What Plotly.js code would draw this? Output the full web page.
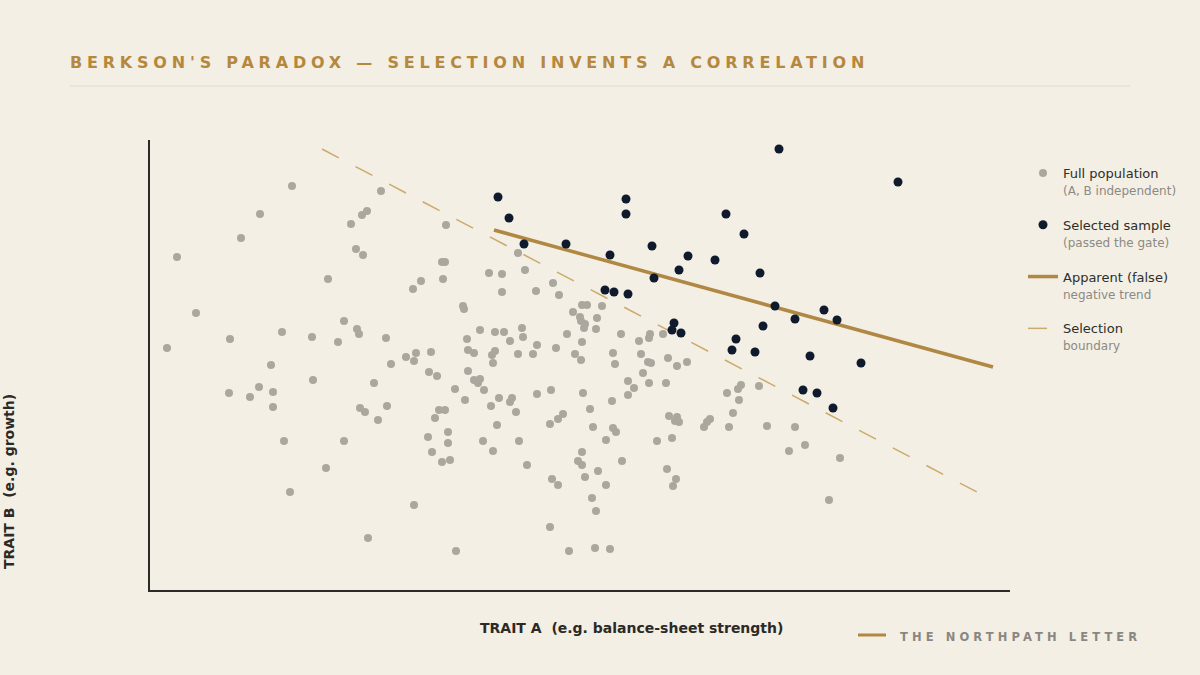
<!DOCTYPE html>
<html>
<head>
<meta charset="utf-8">
<script src="https://cdn.plot.ly/plotly-3.0.1.min.js"></script>
<style>
  html, body { margin: 0; padding: 0; background: #f3efe4; }
  #chart { width: 1200px; height: 675px; }
</style>
</head>
<body>
<div id="chart"></div>
<script>
// ---- Data (Trait A on x, Trait B on y; arbitrary units) ----
const populationA = [
  14.2, 11.0, 9.1, 2.7, 17.8, 20.1, 21.2, 21.7, 20.6, 21.3, 4.6, 1.7, 8.0, 13.2, 16.2, 19.4, 20.7, 20.9, 18.8, 12.1,
  16.3, 7.9, 10.0, 10.9, 12.3, 12.3, 13.4, 19.4, 17.6, 14.0, 21.0, 21.5, 21.8, 23.1, 29.6, 36.8, 29.2, 29.5, 33.9, 35.2,
  37.5, 27.1, 29.3, 26.3, 35.2, 38.6, 40.3, 40.9, 31.3, 31.4, 42.3, 43.2, 43.0, 43.1, 43.4, 23.6, 33.0, 34.5, 35.4, 37.2,
  31.7, 36.0, 37.3, 38.7, 40.6, 41.7, 43.2, 31.8, 32.4, 34.5, 34.2, 36.8, 38.3, 42.5, 43.1, 26.6, 25.6, 26.4, 28.1, 24.1,
  34.3, 27.9, 28.7, 31.8, 32.4, 33.0, 32.8, 33.4, 30.5, 31.5, 34.9, 36.2, 36.0, 34.1, 36.6, 38.7, 40.1, 43.3, 22.4, 23.7,
  22.8, 28.9, 29.5, 28.5, 29.8, 27.8, 29.8, 28.2, 29.2, 30.0, 34.7, 33.3, 34.3, 36.9, 37.7, 40.0, 40.8, 41.3, 43.2, 42.8,
  43.2, 43.5, 40.2, 40.8, 26.4, 30.6, 40.0, 41.9, 43.7, 45.2, 44.7, 43.5, 44.6, 47.1, 48.9, 50.0, 49.9, 51.3, 46.3, 49.1,
  49.8, 50.1, 51.8, 46.5, 53.7, 52.7, 49.3, 47.8, 48.4, 49.9, 51.6, 47.8, 46.2, 44.0, 44.3, 46.3, 46.6, 45.6, 44.8, 45.6,
  47.2, 44.2, 44.6, 44.5, 46.0, 51.9, 52.7, 52.5, 52.9, 50.7, 52.2, 51.7, 52.6, 52.3, 55.4, 56.0, 55.7, 57.9, 58.3, 58.9,
  57.7, 59.1, 58.8, 60.9, 61.7, 63.9, 64.5, 65.5, 69.0, 67.9
];
const populationB = [
  40.4, 37.6, 35.2, 33.3, 31.1, 36.6, 37.5, 37.9, 34.1, 33.5, 27.7, 24.2, 25.1, 25.8, 25.3, 26.9, 26.1, 25.6, 24.8, 22.5,
  21.0, 19.7, 19.3, 20.3, 19.8, 18.3, 14.9, 14.9, 12.2, 9.8, 18.2, 17.8, 5.2, 39.9, 36.5, 33.7, 32.8, 32.8, 31.7, 31.6,
  32.0, 30.9, 31.1, 30.1, 29.8, 29.9, 30.7, 29.5, 28.4, 28.1, 27.8, 28.5, 27.3, 26.9, 26.2, 25.2, 26.0, 25.8, 25.8, 26.2,
  25.1, 24.9, 25.3, 24.5, 24.2, 25.6, 24.8, 24.0, 23.7, 23.9, 23.5, 23.6, 23.6, 23.6, 23.0, 23.7, 23.3, 22.9, 23.8, 22.6,
  22.7, 21.8, 21.4, 21.9, 21.0, 21.1, 20.7, 20.0, 20.1, 19.0, 19.2, 19.2, 18.8, 18.4, 17.8, 19.6, 20.0, 19.7, 20.7, 18.4,
  17.0, 18.0, 18.0, 17.2, 15.8, 15.3, 14.7, 13.8, 12.8, 13.0, 16.5, 14.9, 13.9, 14.9, 12.5, 16.6, 17.1, 17.6, 13.8, 12.9,
  12.5, 11.3, 11.1, 10.5, 8.5, 3.9, 6.3, 3.9, 28.5, 28.4, 27.2, 26.6, 26.1, 25.6, 24.9, 25.6, 25.2, 25.6, 23.7, 23.6,
  22.8, 22.7, 23.2, 22.6, 22.8, 22.4, 21.7, 20.9, 20.2, 20.7, 20.7, 19.5, 18.9, 18.1, 16.3, 16.2, 15.8, 15.0, 11.9, 10.5,
  12.9, 9.2, 7.9, 4.2, 4.1, 17.4, 17.3, 16.9, 16.8, 14.9, 15.2, 12.1, 11.1, 10.4, 16.3, 17.1, 16.8, 16.3, 17.7, 19.0,
  19.7, 20.5, 20.1, 20.4, 16.4, 13.9, 16.3, 14.5, 13.2, 9.0
];
const selectedA = [
  34.8, 35.9, 37.4, 41.6, 47.6, 47.6, 46.0, 50.2, 50.4, 45.5, 46.4, 47.8, 53.8, 52.9, 56.5, 57.6, 59.4, 61.0,
  62.9, 62.5, 64.5, 61.3, 58.6, 58.2, 60.5, 66.0, 67.4, 68.7, 71.1, 74.8, 65.3, 66.7, 68.3, 52.4, 52.2, 53.1
];
const selectedB = [
  39.3, 37.2, 34.6, 34.6, 39.1, 37.6, 33.5, 34.4, 31.2, 30.0, 29.8, 29.6, 33.4, 32.0, 33.0, 37.6, 35.6, 31.7,
  44.1, 28.4, 27.1, 26.4, 25.1, 24.0, 23.8, 23.4, 28.0, 27.0, 22.7, 40.8, 20.0, 19.7, 18.2, 26.7, 26.0, 25.7
];
const trendA = [34.4, 84.3];
const trendB = [36.0, 22.3];
const boundaryA = [17.2, 82.7];
const boundaryB = [44.1, 9.8];

const legendNames = [
  "Full population<br><span style='font-size:12px;color:#8c8a84'>(A, B independent)</span>",
  "Selected sample<br><span style='font-size:12px;color:#8c8a84'>(passed the gate)</span>",
  "Apparent (false)<br><span style='font-size:12px;color:#8c8a84'>negative trend</span>",
  "Selection<br><span style='font-size:12px;color:#8c8a84'>boundary</span>"
];

const titleText = "BERKSON'S PARADOX — SELECTION INVENTS A CORRELATION";
const xTitle = "TRAIT A\u00a0 (e.g. balance-sheet strength)";
const yTitle = "TRAIT B\u00a0 (e.g. growth)";
const footer = "THE NORTHPATH LETTER";

// ---- Colours ----
const BG = '#f3efe4';
const GOLD = '#b08843';
const GOLD_LIGHT = '#ccaa6c';
const GREY_PT = '#aba79e';
const NAVY = '#0f1b2c';
const INK = '#2b2a26';

const traces = [
  {
    x: populationA, y: populationB, type: 'scatter', mode: 'markers',
    name: legendNames[0], legendgroup: 'g1', legendrank: 1,
    marker: { color: GREY_PT, size: 8, line: { width: 0 } },
    hoverinfo: 'skip'
  },
  {
    x: selectedA, y: selectedB, type: 'scatter', mode: 'markers',
    name: legendNames[1], legendgroup: 'g2', legendrank: 2,
    marker: { color: NAVY, size: 9, line: { width: 0 } },
    hoverinfo: 'skip'
  },
  {
    x: trendA, y: trendB, type: 'scatter', mode: 'lines',
    name: legendNames[2], legendgroup: 'g3', legendrank: 3,
    line: { color: GOLD, width: 3.5 },
    hoverinfo: 'skip'
  },
  {
    x: boundaryA, y: boundaryB, type: 'scatter', mode: 'lines',
    name: legendNames[3], legendgroup: 'g4', legendrank: 4,
    line: { color: GOLD_LIGHT, width: 1.5, dash: '19px,18.9px' },
    hoverinfo: 'skip'
  }
];

// draw order: boundary below points, trend below selected points
const ordered = [traces[3], traces[0], traces[2], traces[1]];

const layout = {
  width: 1200, height: 675,
  paper_bgcolor: BG, plot_bgcolor: BG,
  margin: { l: 150, r: 190, t: 140, b: 85 },
  font: { family: 'DejaVu Sans, sans-serif', color: INK },
  title: {
    text: "<span style='letter-spacing:4.8px'>" + titleText + "</span>",
    font: { family: 'DejaVu Sans, sans-serif', size: 16, color: '#b5883e', weight: 700 },
    x: 70 / 1200, xref: 'container', xanchor: 'left',
    y: 1 - 62 / 675, yref: 'container', yanchor: 'middle'
  },
  xaxis: {
    range: [0, 86], showgrid: false, zeroline: false, showticklabels: false, ticks: '',
    showline: true, linecolor: INK, linewidth: 2, fixedrange: true
  },
  yaxis: {
    range: [0, 45], showgrid: false, zeroline: false, showticklabels: false, ticks: '',
    showline: true, linecolor: INK, linewidth: 2, fixedrange: true
  },
  showlegend: true,
  legend: {
    x: (1023 - 150) / 860, xanchor: 'left',
    y: (590 - 158) / 450, yanchor: 'top',
    bgcolor: 'rgba(0,0,0,0)', borderwidth: 0,
    font: { family: 'DejaVu Sans, sans-serif', size: 13, color: '#2f2e2a' },
    valign: 'top', tracegroupgap: 15, traceorder: 'grouped',
    itemclick: false, itemdoubleclick: false
  },
  shapes: [
    { type: 'line', xref: 'paper', yref: 'paper',
      x0: (70 - 150) / 860, x1: (1130 - 150) / 860,
      y0: (590 - 86) / 450, y1: (590 - 86) / 450,
      line: { color: '#e0dacb', width: 1 } },
    { type: 'line', xref: 'paper', yref: 'paper',
      x0: (858 - 150) / 860, x1: (886 - 150) / 860,
      y0: (590 - 635) / 450, y1: (590 - 635) / 450,
      line: { color: GOLD, width: 3 } }
  ],
  annotations: [
    { text: xTitle, xref: 'paper', yref: 'paper',
      x: (631 - 150) / 860, y: (590 - 628) / 450, xanchor: 'center', yanchor: 'middle',
      showarrow: false, font: { family: 'DejaVu Sans, sans-serif', size: 14, color: INK, weight: 700 } },
    { text: yTitle, xref: 'paper', yref: 'paper', textangle: -90,
      x: (9 - 150) / 860, y: (590 - 482) / 450, xanchor: 'center', yanchor: 'middle',
      showarrow: false, font: { family: 'DejaVu Sans, sans-serif', size: 14, color: INK, weight: 700 } },
    { text: "<span style='letter-spacing:4.1px'>" + footer + "</span>", xref: 'paper', yref: 'paper',
      x: (898 - 150) / 860, y: (590 - 637) / 450, xanchor: 'left', yanchor: 'middle',
      showarrow: false, font: { family: 'DejaVu Sans, sans-serif', size: 11.5, color: '#8a8782', weight: 700 } }
  ],
  hovermode: false
};

Plotly.newPlot('chart', ordered, layout, { displayModeBar: false, staticPlot: true });
</script>
</body>
</html>
